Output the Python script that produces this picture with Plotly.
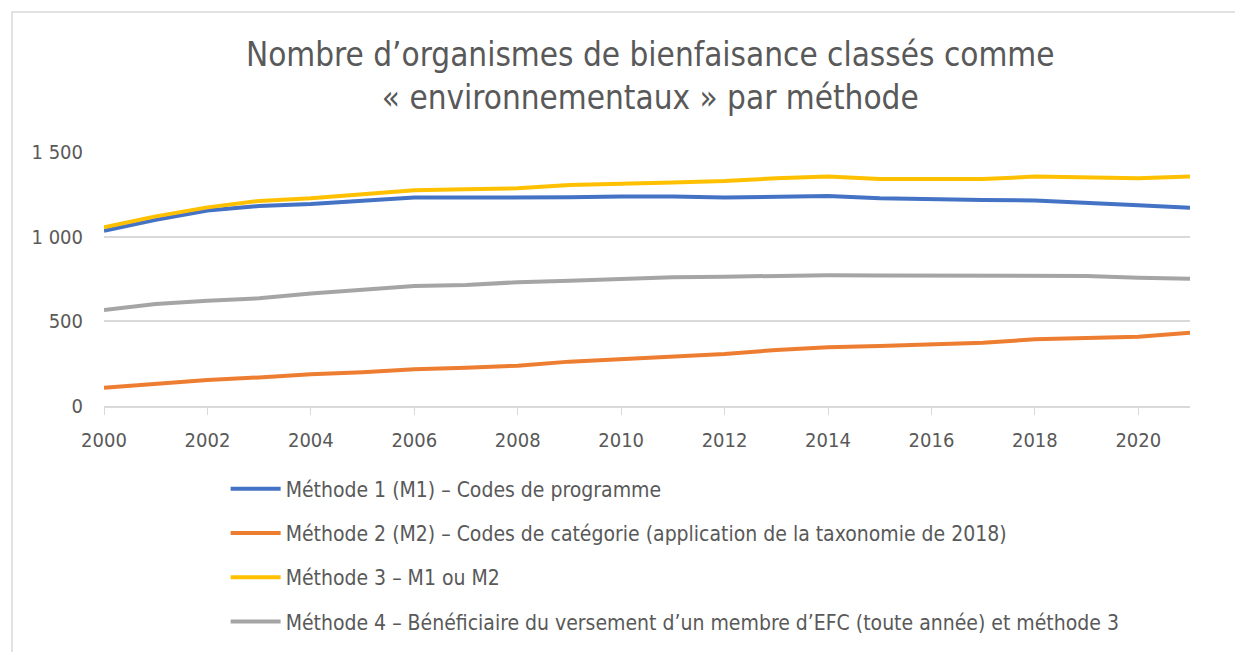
import plotly.graph_objects as go

years = list(range(2000, 2022))

m1_programme = [1035, 1099, 1154, 1181, 1193, 1213, 1231, 1231, 1231, 1233, 1237,
                1237, 1231, 1238, 1240, 1227, 1220, 1216, 1214, 1197, 1185, 1171]
m2_categorie = [108, 130, 154, 169, 187, 199, 217, 226, 238, 262, 279,
                291, 307, 331, 347, 354, 364, 374, 394, 404, 409, 433]
m3_m1_ou_m2 = [1055, 1120, 1173, 1211, 1227, 1252, 1274, 1280, 1286, 1305, 1315,
               1320, 1329, 1345, 1355, 1340, 1340, 1340, 1355, 1348, 1345, 1355]
m4_efc = [567, 602, 622, 636, 665, 685, 709, 715, 731, 740, 750,
          760, 764, 768, 772, 770, 770, 772, 772, 768, 758, 752]

series_names = [
    "Méthode 1 (M1) – Codes de programme",
    "Méthode 2 (M2) – Codes de catégorie (application de la taxonomie de 2018)",
    "Méthode 3 – M1 ou M2",
    "Méthode 4 – Bénéficiaire du versement d’un membre d’EFC (toute année) et méthode 3",
]
series_values = [m1_programme, m2_categorie, m3_m1_ou_m2, m4_efc]
colors = ["#4472C4", "#ED7D31", "#FFC000", "#A5A5A5"]

FONT = "DejaVu Sans Condensed, Open Sans, sans-serif"
TXT = "#595959"

# page body has an 8px margin, so figure coords = window coords - 8
L, T = 96, 144
PW, PH = 1086, 254

fig = go.Figure()
for i, (name, vals, c) in enumerate(zip(series_names, series_values, colors)):
    fig.add_trace(go.Scatter(x=years, y=vals, name=name, mode="lines",
                             line=dict(color=c, width=4),
                             legendgroup=str(i)))

fig.update_layout(
    width=1243, height=652,
    paper_bgcolor="white", plot_bgcolor="white",
    margin=dict(l=L, r=1243 - L - PW, t=T, b=652 - T - PH),
    separators=", ",
    font=dict(family=FONT, color=TXT, size=20),
    title=dict(text="Nombre d’organismes de bienfaisance classés comme<br>« environnementaux » par méthode",
               x=0.503, xref="paper", xanchor="center",
               y=1 - 58 / 652, yref="container", yanchor="middle",
               font=dict(size=33, color=TXT, family=FONT)),
    xaxis=dict(range=[2000, 2021], tickvals=list(range(2000, 2022, 2)),
               showgrid=False, showline=True, linecolor="#D9D9D9", linewidth=1.5,
               ticks="outside", ticklen=7, tickcolor="#D9D9D9",
               ticklabelstandoff=8,
               tickfont=dict(size=20, color=TXT), zeroline=False),
    yaxis=dict(range=[0, 1500], dtick=500, tickformat=",d",
               showgrid=True, gridcolor="#D9D9D9", gridwidth=1.5,
               zeroline=False, showline=False, ticks="", ticklabelstandoff=20,
               tickfont=dict(size=20, color=TXT)),
    legend=dict(orientation="v", x=0.112, xanchor="left", y=-0.246, yanchor="top",
                tracegroupgap=14, itemwidth=50, font=dict(size=21, color=TXT),
                bgcolor="rgba(0,0,0,0)"),
    shapes=[dict(type="rect", xref="paper", yref="paper",
                 x0=(4 - L) / PW, x1=(1229 - L) / PW,
                 y0=(PH + T - 660) / PH, y1=(PH + T - 4) / PH,
                 line=dict(color="#D9D9D9", width=1.5), fillcolor="rgba(0,0,0,0)",
                 layer="below")],
)

fig.write_html("out.html")
